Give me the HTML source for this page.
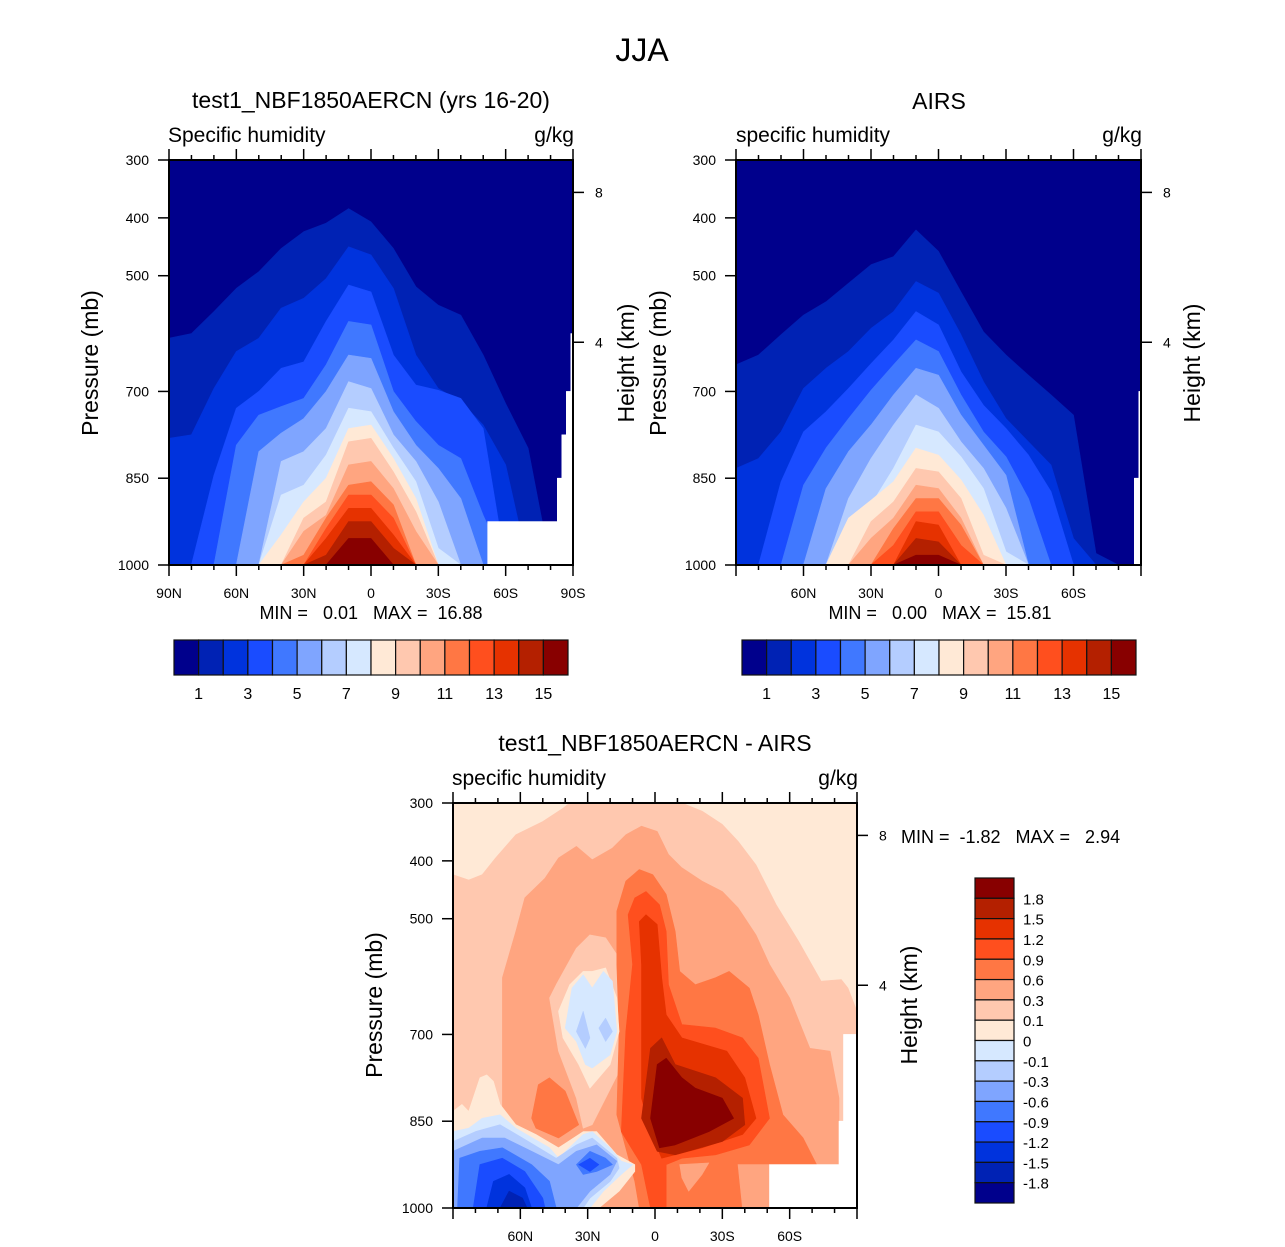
<!DOCTYPE html>
<html><head><meta charset="utf-8"><style>
html,body{margin:0;padding:0;background:#fff;}
svg{display:block;font-family:"Liberation Sans",Arial,sans-serif;}
</style></head><body>
<svg id="fig" width="1285" height="1247" viewBox="0 0 1285 1247" xmlns="http://www.w3.org/2000/svg">
<text x="642" y="61" font-size="32" text-anchor="middle">JJA</text>
</svg>
<script>
// ---------- data ----------
const colors = ["#00008C","#0022B4","#0033DD","#1A4CFF","#4078FF","#7FA5FF","#B4CDFF","#D6E8FF","#FFE9D6","#FFC8AF","#FFA580","#FF7744","#FF4F1E","#E63200","#B42000","#880000"];
const lats = [90,80,70,60,50,40,30,20,10,0,-10,-20,-30,-40,-50,-60,-70,-80,-90];
const modelLevels = [
 [608,600,562,522,493,453,424,409,384,407,453,519,551,568,637,721,798,1000,1000],
 [781,775,695,631,608,556,539,505,450,464,522,637,695,718,758,827,1000,1000,1000],
 [1000,1000,845,729,700,660,649,579,516,528,637,689,698,712,764,1000,1000,1000,1000],
 [1000,1000,1000,793,741,726,712,654,579,585,700,752,793,816,914,1000,1000,1000,1000],
 [1000,1000,1000,1000,804,772,747,700,637,643,735,793,833,885,1000,1000,1000,1000,1000],
 [1000,1000,1000,1000,1000,821,804,764,683,695,775,821,891,1000,1000,1000,1000,1000,1000],
 [1000,1000,1000,1000,1000,879,862,810,729,735,798,856,971,1000,1000,1000,1000,1000,1000],
 [1000,1000,1000,1000,1000,948,891,850,764,758,816,885,1000,1000,1000,1000,1000,1000,1000],
 [1000,1000,1000,1000,1000,1000,919,891,787,781,839,908,1000,1000,1000,1000,1000,1000,1000],
 [1000,1000,1000,1000,1000,1000,942,914,827,821,868,942,1000,1000,1000,1000,1000,1000,1000],
 [1000,1000,1000,1000,1000,1000,983,919,862,856,896,1000,1000,1000,1000,1000,1000,1000,1000],
 [1000,1000,1000,1000,1000,1000,1000,937,879,879,919,1000,1000,1000,1000,1000,1000,1000,1000],
 [1000,1000,1000,1000,1000,1000,1000,954,902,902,948,1000,1000,1000,1000,1000,1000,1000,1000],
 [1000,1000,1000,1000,1000,1000,1000,983,925,925,971,1000,1000,1000,1000,1000,1000,1000,1000],
 [1000,1000,1000,1000,1000,1000,1000,1000,954,954,1000,1000,1000,1000,1000,1000,1000,1000,1000]
];
const airsLevels = [
 [654,637,602,568,545,513,481,467,421,458,528,597,637,672,706,741,980,1000,1000],
 [833,816,770,695,660,631,591,562,510,530,602,683,747,787,827,954,1000,1000,1000],
 [1000,1000,856,770,735,695,652,611,562,585,666,724,764,810,873,1000,1000,1000,1000],
 [1000,1000,1000,862,798,747,698,654,611,631,706,770,813,885,1000,1000,1000,1000,1000],
 [1000,1000,1000,1000,868,804,758,706,660,672,741,793,845,1000,1000,1000,1000,1000,1000],
 [1000,1000,1000,1000,1000,885,816,758,706,729,787,833,902,1000,1000,1000,1000,1000,1000],
 [1000,1000,1000,1000,1000,1000,896,833,758,770,813,868,977,1000,1000,1000,1000,1000,1000],
 [1000,1000,1000,1000,1000,919,888,856,798,810,853,914,1000,1000,1000,1000,1000,1000,1000],
 [1000,1000,1000,1000,1000,1000,925,891,833,839,885,983,1000,1000,1000,1000,1000,1000,1000],
 [1000,1000,1000,1000,1000,1000,954,919,862,868,919,1000,1000,1000,1000,1000,1000,1000,1000],
 [1000,1000,1000,1000,1000,1000,1000,937,885,885,931,1000,1000,1000,1000,1000,1000,1000,1000],
 [1000,1000,1000,1000,1000,1000,1000,966,908,908,966,1000,1000,1000,1000,1000,1000,1000,1000],
 [1000,1000,1000,1000,1000,1000,1000,1000,925,931,1000,1000,1000,1000,1000,1000,1000,1000,1000],
 [1000,1000,1000,1000,1000,1000,1000,1000,954,960,1000,1000,1000,1000,1000,1000,1000,1000,1000],
 [1000,1000,1000,1000,1000,1000,1000,1000,983,983,1000,1000,1000,1000,1000,1000,1000,1000,1000]
];
// difference panel contour regions, [lat, pressure] vertices
const d9 = [[90,424],[83,433],[77,424],[71,395],[62,355],[50,332],[41,309],[38,300],[-12,300],[-21,314],[-30,337],[-37,366],[-45,407],[-54,476],[-64,539],[-74,608],[-83,605],[-86,620],[-90,660],[-90,1000],[90,1000]];
const d10 = [[68,602],[62,522],[58,464],[49,430],[43,395],[35,375],[28,398],[19,378],[13,355],[6,340],[-1,349],[-6,389],[-12,412],[-21,435],[-30,453],[-37,481],[-45,528],[-51,579],[-60,637],[-69,724],[-78,729],[-82,810],[-82,1000],[68,1000]];
const dHalo9 = [[47,637],[44,614],[35,551],[29,528],[22,533],[16,568],[12,695],[16,764],[28,856],[32,862],[35,810],[43,729]];
const d11 = [[17,487],[13,435],[7,415],[1,424],[-5,458],[-9,522],[-11,591],[-18,614],[-27,602],[-33,591],[-42,620],[-46,666],[-51,752],[-57,839],[-66,879],[-72,925],[-51,925],[-51,1000],[7,1000],[9,954],[17,839],[16,695],[17,579]];
const d11b = [[55,845],[52,787],[47,775],[40,798],[34,856],[43,879],[53,862]];
const d12 = [[12,493],[9,464],[4,453],[-2,476],[-5,522],[-6,614],[-12,683],[-27,689],[-39,706],[-46,741],[-51,845],[-42,891],[-27,908],[-12,914],[-5,925],[-5,1000],[2,1000],[6,925],[15,868],[13,695],[10,579]];
const d10b = [[-11,925],[-24,922],[-21,942],[-15,971],[-12,948]];
const d10c = [[-37,925],[-51,925],[-51,1000],[-39,1000]];
const d13 = [[7,505],[4,493],[-1,510],[-3,602],[-5,666],[-12,706],[-32,729],[-40,775],[-45,845],[-39,873],[-21,896],[-3,914],[2,868],[6,810],[6,695],[6,579]];
const d14 = [[2,724],[-3,706],[-9,752],[-27,775],[-39,810],[-40,856],[-30,885],[-9,908],[-1,902],[6,845]];
const d15 = [[-1,752],[-5,741],[-12,775],[-18,793],[-30,810],[-35,845],[-24,868],[-9,891],[-2,896],[2,845]];
const dHalo8 = [[43,660],[38,614],[32,591],[28,591],[22,585],[17,637],[16,695],[20,752],[29,793],[34,752],[41,706]];
const dPale7 = [[40,689],[37,620],[32,597],[28,620],[23,591],[19,608],[17,695],[20,735],[28,758],[31,752],[35,712]];
const dPale6a = [[35,695],[32,660],[29,706],[31,724]];
const dPale6b = [[25,689],[22,672],[19,695],[22,712]];
const b8 = [[90,833],[86,821],[83,833],[78,775],[75,770],[72,781],[69,821],[62,856],[53,873],[43,896],[32,868],[26,868],[17,908],[9,925],[9,937],[16,971],[25,1000],[90,1000]];
const b7 = [[90,868],[83,862],[77,845],[69,839],[62,862],[47,896],[43,914],[32,873],[28,868],[20,896],[15,919],[10,925],[15,942],[23,971],[29,1000],[90,1000]];
const b6 = [[90,885],[80,868],[69,856],[59,879],[44,914],[35,891],[28,879],[17,914],[16,931],[20,954],[29,983],[32,1000],[90,1000]];
const b5 = [[90,902],[77,879],[67,879],[55,902],[43,925],[35,902],[26,891],[17,919],[20,942],[29,971],[35,1000],[90,1000]];
const b4 = [[88,1000],[87,914],[78,902],[68,896],[55,925],[47,954],[44,1000]];
const b4b = [[35,925],[29,902],[22,914],[19,925],[26,937],[32,942]];
const b3 = [[81,1000],[78,925],[68,914],[58,937],[50,983],[49,1000]];
const b3b = [[34,925],[29,914],[25,925],[29,937]];
const b2 = [[75,1000],[72,954],[65,942],[58,965],[55,1000]];
const b1 = [[69,1000],[65,971],[59,983],[57,1000]];
const diffLevelIdx = [9,10,9,11,11,12,10,10,13,14,15,8,7,6,6,8,7,6,5,4,4,3,3,2,1];
const diffShapes = [d9,d10,dHalo9,d11,d11b,d12,d10b,d10c,d13,d14,d15,dHalo8,dPale7,dPale6a,dPale6b,b8,b7,b6,b5,b4,b4b,b3,b3b,b2,b1];
// missing-data masks [lat, pressure]
const mask1 = [[-52,1000],[-52,925],[-83,925],[-83,850],[-85,850],[-85,775],[-87,775],[-87,700],[-89,700],[-89,600],[-90,600],[-90,1000]];
const mask2 = [[-87,1000],[-87,850],[-89,850],[-89,700],[-90,700],[-90,1000]];
const mask3 = [[-51,1000],[-51,925],[-82,925],[-82,850],[-84,850],[-84,700],[-90,700],[-90,1000]];
const presTicks = [300,400,500,700,850,1000];
const heightTicks = [8,4];
const heightPres = [356,615];
const latTicks = [90,60,30,0,-30,-60,-90];
const latLabels = ["90N","60N","30N","0","30S","60S","90S"];
const latLabelsShort = ["","60N","30N","0","30S","60S",""];
const cbLabels1 = ["1","3","5","7","9","11","13","15"];
const cbLabelsDiff = ["1.8","1.5","1.2","0.9","0.6","0.3","0.1","0","-0.1","-0.3","-0.6","-0.9","-1.2","-1.5","-1.8"];

// ---------- drawing ----------
const svg = document.getElementById('fig');
const NS = "http://www.w3.org/2000/svg";
function el(tag, attrs, parent){
  const e = document.createElementNS(NS, tag);
  for (const k in attrs) e.setAttribute(k, attrs[k]);
  (parent||svg).appendChild(e);
  return e;
}
function txt(x,y,s,size,anchor,parent,rot){
  const t = el('text',{x:x,y:y,'font-size':size,'text-anchor':anchor||'start'},parent);
  if (rot) t.setAttribute('transform','rotate(-90 '+x+' '+y+')');
  t.textContent = s;
  return t;
}
function makeAxes(x0,y0,w,h){
  return {x: lat => x0 + (90-lat)/180*w, y: p => y0 + (p-300)/700*h};
}
function poly(pts, ax, fill, g){
  const d = pts.map(q => ax.x(q[0]).toFixed(1)+','+ax.y(q[1]).toFixed(1)).join(' ');
  return el('polygon',{points:d, fill:fill, stroke:fill, 'stroke-width':0.6, 'stroke-linejoin':'round'},g);
}
function drawFrame(ax,x0,y0,w,h,labels,g){
  const ink = {stroke:'#000','stroke-width':1.5};
  for (let lat=90; lat>=-90; lat-=10){
    const x = ax.x(lat), major = (lat%30===0);
    const L = major?11:5;
    el('line',Object.assign({x1:x,y1:y0,x2:x,y2:y0-L},ink),g);
    el('line',Object.assign({x1:x,y1:y0+h,x2:x,y2:y0+h+L},ink),g);
  }
  latTicks.forEach((lat,i)=>{ if(labels[i]) txt(ax.x(lat), y0+h+33, labels[i], 14, 'middle', g); });
  presTicks.forEach(p=>{
    const y = ax.y(p);
    el('line',Object.assign({x1:x0-11,y1:y,x2:x0,y2:y},ink),g);
    txt(x0-20, y+5, String(p), 14, 'end', g);
  });
  heightTicks.forEach((km,i)=>{
    const y = ax.y(heightPres[i]);
    el('line',Object.assign({x1:x0+w,y1:y,x2:x0+w+11,y2:y},ink),g);
    txt(x0+w+22, y+5, String(km), 14, 'start', g);
  });
  el('rect',{x:x0,y:y0,width:w,height:h,fill:'none',stroke:'#000','stroke-width':2},g);
}
function domePanel(name,x0,y0,w,h,levels,mask,labels){
  const g = el('g',{});
  
  
  const ax = makeAxes(x0,y0,w,h);
  el('rect',{x:x0,y:y0,width:w,height:h,fill:colors[0]},g);
  levels.forEach((row,k)=>{
    const pts = lats.map((lat,i)=>[lat,row[i]]);
    pts.push([-90,1000]); pts.push([90,1000]);
    const pg = poly(pts, ax, colors[k+1], g);
    
    
  });
  const m = poly(mask, ax, '#fff', g);
  
  
  drawFrame(ax,x0,y0,w,h,labels,g);
  return g;
}
function hColorbar(name,x0,y0,w,h){
  const g = el('g',{});
  
  
  const bw = w/16;
  colors.forEach((c,i)=>{
    const r = el('rect',{x:x0+i*bw,y:y0,width:bw,height:h,fill:c,stroke:'#111','stroke-width':1.2},g);
    
    
  });
  cbLabels1.forEach((s,i)=>{ txt(x0+(1+2*i)*bw, y0+h+24, s, 16, 'middle', g); });
}

domePanel('model-panel',169,160,404,405,modelLevels,mask1,latLabels);
domePanel('airs-panel',736,160,405,405,airsLevels,mask2,latLabelsShort);
hColorbar('model-colorbar',174,640,394,35);
hColorbar('airs-colorbar',742,640,394,35);

// difference panel
(function(){
  const x0=453,y0=803,w=404,h=405;
  const g = el('g',{});
  
  
  const ax = makeAxes(x0,y0,w,h);
  el('rect',{x:x0,y:y0,width:w,height:h,fill:colors[8]},g);
  diffShapes.forEach((pts,i)=>{
    const pg = poly(pts, ax, colors[diffLevelIdx[i]], g);
    
    
  });
  const m = poly(mask3, ax, '#fff', g);
  
  
  drawFrame(ax,x0,y0,w,h,latLabelsShort,g);
  // vertical colorbar
  const cg = el('g',{});
  
  
  const cx=975, cy=878, cw=39, ch=325, bh=ch/16;
  for (let i=0;i<16;i++){
    const r = el('rect',{x:cx,y:cy+i*bh,width:cw,height:bh,fill:colors[15-i],stroke:'#111','stroke-width':1.2},cg);
    
    
  }
  cbLabelsDiff.forEach((s,i)=>{ txt(cx+cw+9, cy+(i+1)*bh+6, s, 15, 'start', cg); });
})();

// titles & labels
function label(name,x,y,s,size,anchor,rot){
  const t = txt(x,y,s,size,anchor,svg,rot);
  
  
}
label('model-title',371,108,'test1_NBF1850AERCN (yrs 16-20)',23,'middle');
label('airs-title',939,109,'AIRS',23,'middle');
label('diff-title',655,751,'test1_NBF1850AERCN - AIRS',23,'middle');
label('model-subtitle',168,142,'Specific humidity',21,'start');
label('model-units',574,142,'g/kg',21,'end');
label('airs-subtitle',736,142,'specific humidity',21,'start');
label('airs-units',1142,142,'g/kg',21,'end');
label('diff-subtitle',452,785,'specific humidity',21,'start');
label('diff-units',858,785,'g/kg',21,'end');
label('model-y-axis-title',98,363,'Pressure (mb)',23,'middle',true);
label('model-y2-axis-title',634,363,'Height (km)',23,'middle',true);
label('airs-y-axis-title',666,363,'Pressure (mb)',23,'middle',true);
label('airs-y2-axis-title',1200,363,'Height (km)',23,'middle',true);
label('diff-y-axis-title',382,1005,'Pressure (mb)',23,'middle',true);
label('diff-y2-axis-title',917,1005,'Height (km)',23,'middle',true);
label('model-min-max',371,619,'MIN =   0.01   MAX =  16.88',18,'middle');
label('airs-min-max',940,619,'MIN =   0.00   MAX =  15.81',18,'middle');
label('diff-min-max',901,843,'MIN =  -1.82   MAX =   2.94',18,'start');
document.querySelectorAll('text').forEach(t=>t.style.whiteSpace='pre');
</script>
</body></html>
